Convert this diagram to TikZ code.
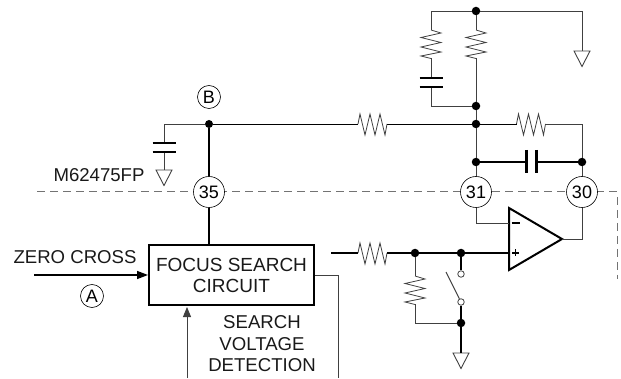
\documentclass[tikz,border=0pt]{standalone}
\usepackage{fontspec}
\setmainfont{Liberation Sans}
\usetikzlibrary{arrows.meta,calc}
\definecolor{thinwire}{gray}{0.25}
\tikzset{
  x=1pt,y=-1pt,
  thick wire/.style={line width=1.4pt,black},
  thin wire/.style={line width=0.9pt,thinwire},
  zig/.style={line width=0.8pt,thinwire,line join=miter},
  dot/.style={circle,fill=black,inner sep=0pt,minimum size=8.5pt},
  contact/.style={circle,draw=thinwire,fill=white,line width=0.8pt,inner sep=0pt,minimum size=6.5pt},
  pin/.style={circle,draw=black,fill=white,line width=0.6pt,inner sep=0pt,minimum size=31pt,font=\fontsize{18}{18}\selectfont},
  tag/.style={circle,draw=black,fill=white,line width=0.6pt,inner sep=0pt,minimum size=23pt,font=\fontsize{18}{18}\selectfont},
  lbl/.style={inner sep=0pt,font=\fontsize{18.6}{21.5}\selectfont,align=center,text=black!90},
  gnd/.style={line width=0.9pt,thinwire},
  plate/.style={line width=2.4pt,black},
  hres/.pic={
    \draw[zig] (-14.5,0) coordinate (-l) -- (-12.5,-10) -- (-7.5,11) -- (-2.5,-10) -- (2.5,11) -- (7.5,-10) -- (12.5,11) -- (14.5,0) coordinate (-r);
  },
  vres/.pic={
    \draw[zig] (0,0) coordinate (-t) -- (10,3) -- (-10,7.5) -- (10,12.5) -- (-10,17) -- (10,22) -- (-10,26) -- (0,28.5) coordinate (-b);
  },
  gndsym/.pic={
    \draw[gnd] (-8,0) -- (8,0) -- (0,15.5) -- cycle;
  }
}
\begin{document}
\begin{tikzpicture}
\useasboundingbox (0,0) rectangle (621,379);
% coordinates
\coordinate (jtopL) at (431,11);
\coordinate (jtopR) at (582,11);
\coordinate (gndTop) at (582,51);
\coordinate (capLa) at (431,78);
\coordinate (capLb) at (431,87);
\coordinate (midL) at (431,106);
\coordinate (wireL) at (164,124);
\coordinate (capBa) at (164,143);
\coordinate (capBb) at (164,152);
\coordinate (gndB) at (164,170);
\coordinate (fbR) at (582,124);
\coordinate (capFa) at (526,162);
\coordinate (capFb) at (536,162);
\coordinate (dashS) at (37,192);
\coordinate (dashC) at (617,192);
\coordinate (dashE) at (617,279);
\coordinate (zcS) at (34,275);
\coordinate (svS) at (187,378);
\coordinate (svE) at (187,307);
\coordinate (boxOutC) at (338,275);
\coordinate (boxOutE) at (338,378);
\coordinate (inS) at (331,253);
\coordinate (oaTL) at (509,208);
\coordinate (oaBL) at (509,270);
\coordinate (oaOut) at (562,239);
\coordinate (oaM) at (509,223);
\coordinate (oaP) at (509,253);
\coordinate (bendM) at (476,223);
\coordinate (bendO) at (582,239);
\coordinate (resBot) at (415,323);
\coordinate (swArm) at (446,272);
\coordinate (gndO) at (461,353);
% dashed boundary
\draw[line width=1pt,black!55,dash pattern=on 8pt off 5pt] (dashS) -- (dashC) -- (dashE);
% nodes
\node[dot] (jTop) at (476,11) {};
\node[dot] (jMid) at (476,106) {};
\node[dot] (jFb) at (476,124) {};
\node[dot] (jCap) at (476,162) {};
\node[dot] (jCapR) at (582,162) {};
\node[dot,minimum size=8pt] (jB) at (209,124) {};
\node[dot] (jIn) at (415,253) {};
\node[dot] (jSw) at (461,253) {};
\node[dot] (jGnd) at (461,323) {};
\node[pin] (p35) at (209,192) {35};
\node[pin] (p31) at (476,192) {31};
\node[pin] (p30) at (582,192) {30};
\node[tag] (tagB) at (209,97) {B};
\node[tag] (tagA) at (92,296) {A};
\node[draw=black,line width=2pt,minimum width=165pt,minimum height=60pt,inner sep=0pt,
  font=\fontsize{19}{21}\selectfont,align=center,text=black!90] (box) at (231.5,275.5) {FOCUS SEARCH\\CIRCUIT};
\node[lbl,anchor=center] (lzc) at (75,257) {ZERO CROSS};
\node[lbl,anchor=center] (lm) at (99,175) {M62475FP};
\node[lbl,anchor=center] (lsv) at (262,344) {SEARCH\\VOLTAGE\\DETECTION};
% resistors
\pic (r1) at (372.5,124) {hres};
\pic (r2) at (531,124) {hres};
\pic (r3) at (372.5,253) {hres};
\pic (r4) at (431,30) {vres};
\pic (r5) at (476,30) {vres};
\pic (r6) at (415,276) {vres};
% ground symbols
\pic at (582,51) {gndsym};
\pic at (164,170) {gndsym};
\pic at (461,353) {gndsym};
% top network
\draw[thin wire] (r4-t) -- (jtopL) -- (jTop) -- (jtopR) -- (gndTop);
\draw[thin wire] (jTop) -- (r5-t);
\draw[thin wire] (r5-b) -- (jMid) -- (jFb);
\draw[thin wire] (r4-b) -- (capLa);
\draw[thin wire] (capLb) -- (midL) -- (jMid);
\draw[plate] ($(capLa)+(-11.5,0)$) -- ($(capLa)+(11.5,0)$);
\draw[plate] ($(capLb)+(-11.5,0)$) -- ($(capLb)+(11.5,0)$);
% summing line
\draw[line width=0.8pt] (jB) -- (r1-l);
\draw[line width=0.8pt] (r1-r) -- (jFb) -- (r2-l);
\draw[thin wire] (r2-r) -- (fbR) -- (jCapR) -- (p30);
\draw[thin wire] (jFb) -- (jCap) -- (p31);
\draw[thick wire] (jCap) -- (capFa);
\draw[thick wire] (capFb) -- (jCapR);
\draw[line width=3pt] ($(capFa)+(0,-12)$) -- ($(capFa)+(0,11.5)$);
\draw[line width=3pt] ($(capFb)+(0,-12)$) -- ($(capFb)+(0,11.5)$);
% pin 35 side
\draw[thin wire] (jB) -- (wireL) -- (capBa);
\draw[thin wire] (capBb) -- (gndB);
\draw[plate] ($(capBa)+(-11.5,0)$) -- ($(capBa)+(11.5,0)$);
\draw[plate] ($(capBb)+(-11.5,0)$) -- ($(capBb)+(11.5,0)$);
\draw[thick wire] (jB) -- (p35);
\draw[thick wire] (p35) -- (box.north -| p35);
% box inputs and outputs
\draw[thick wire,-{Triangle[length=11pt,width=8pt]}] (zcS) -- (box.west |- zcS);
\draw[line width=0.9pt,thinwire,-{Triangle[length=10pt,width=8pt]}] (svS) -- (svE);
\draw[thin wire] (box.east |- boxOutC) -- (boxOutC) -- (boxOutE);
% op amp
\draw[line width=2pt,line join=miter,fill=white] (oaTL) -- (oaOut) -- (oaBL) -- cycle;
\draw[line width=1.4pt] (511.5,223) -- (519.5,223);
\draw[line width=1.4pt] (512,253) -- (519,253) (515.5,249.5) -- (515.5,256.5);
\draw[thin wire] (p31) -- (bendM) -- (oaM);
\draw[thin wire] (oaOut) -- (bendO) -- (p30);
\draw[thick wire] (inS) -- (r3-l);
\draw[thick wire] (r3-r) -- (jIn) -- (jSw) -- (oaP);
\draw[thin wire] (jIn) -- (r6-t);
\draw[thin wire] (r6-b) -- (resBot) -- (jGnd);
% switch
\node[contact] (swT) at (461,274) {};
\node[contact] (swB) at (461,302) {};
\draw[thick wire] (jSw) -- (swT);
\draw[thick wire] (swB) -- (jGnd) -- (gndO);
\draw[line width=1.1pt,thinwire] (swArm) -- (swB);
\end{tikzpicture}
\end{document}
